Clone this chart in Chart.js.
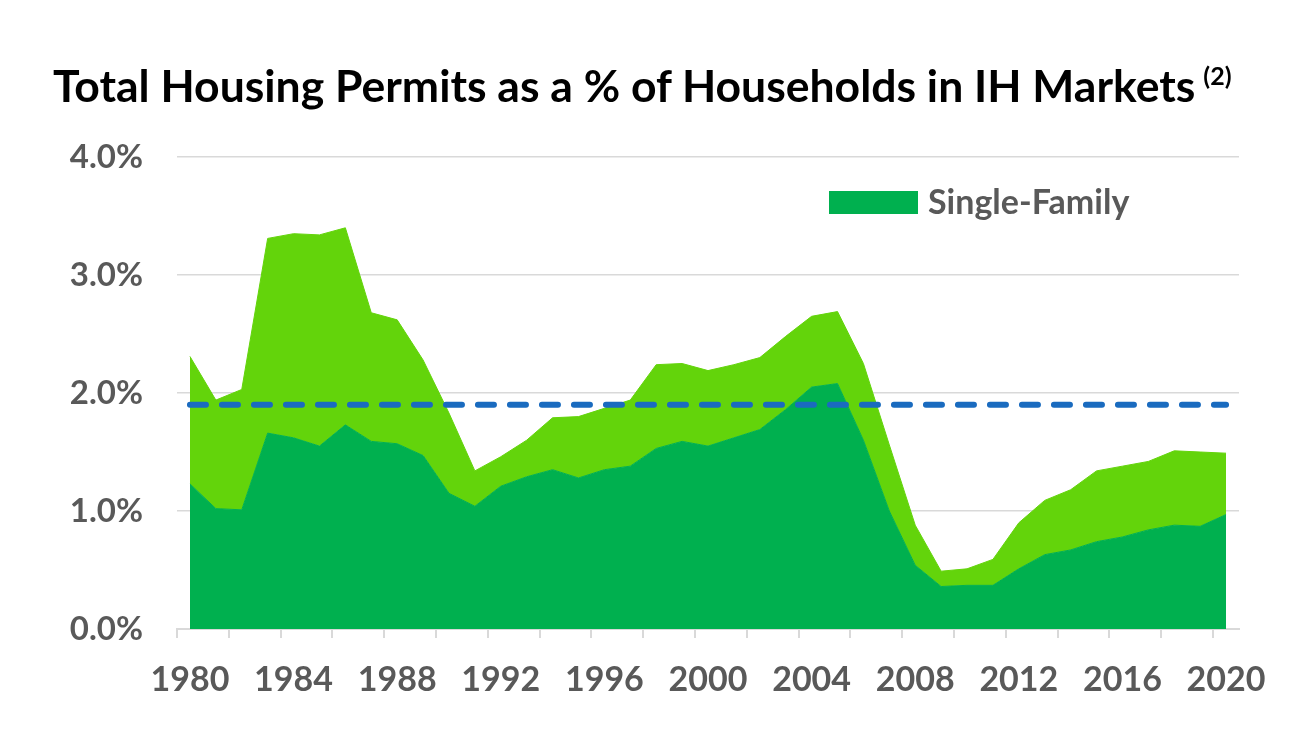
<!DOCTYPE html>
<html>
<head>
<meta charset="utf-8">
<script src="https://cdn.jsdelivr.net/npm/chart.js@4.4.1/dist/chart.umd.min.js"></script>
<style>
    body { margin: 0; background: #fff; }
    #wrap { position: relative; width: 1306px; height: 733px; }
    #title {
        position: absolute; left: 53px; top: 63px;
        font-family: Lato, sans-serif; font-weight: bold; font-size: 44.5px;
        line-height: 1; color: #000; white-space: nowrap;
    }
    #title sup { font-size: 25px; vertical-align: 0; position: relative; top: -17px; margin-left: 8px; }
    canvas { position: absolute; left: 0; top: 0; }
</style>
</head>
<body>
<div id="wrap">
    <canvas id="permitsChart" width="1306" height="733"></canvas>
    <div id="title">Total Housing Permits as a % of Households in IH Markets<sup>(2)</sup></div>
</div>
<script>
// =================== data ===================
const years = [
    '1980', '1981', '1982', '1983', '1984', '1985', '1986', '1987', '1988', '1989',
    '1990', '1991', '1992', '1993', '1994', '1995', '1996', '1997', '1998', '1999',
    '2000', '2001', '2002', '2003', '2004', '2005', '2006', '2007', '2008', '2009',
    '2010', '2011', '2012', '2013', '2014', '2015', '2016', '2017', '2018', '2019', '2020'
];

// total permits (% of households) - top of the light green area
const totalPermits = [
    2.31, 1.94, 2.03, 3.31, 3.35, 3.34, 3.40, 2.68, 2.62, 2.28,
    1.83, 1.34, 1.46, 1.60, 1.79, 1.80, 1.87, 1.94, 2.24, 2.25,
    2.19, 2.24, 2.30, 2.48, 2.65, 2.69, 2.25, 1.56, 0.88, 0.49,
    0.51, 0.59, 0.90, 1.09, 1.18, 1.34, 1.38, 1.42, 1.51, 1.50, 1.49
];

// single-family permits (% of households) - dark green area
const singleFamily = [
    1.23, 1.02, 1.01, 1.66, 1.62, 1.55, 1.73, 1.59, 1.57, 1.47,
    1.15, 1.04, 1.21, 1.29, 1.35, 1.28, 1.35, 1.38, 1.53, 1.59,
    1.55, 1.62, 1.69, 1.86, 2.05, 2.08, 1.60, 1.00, 0.54, 0.36,
    0.37, 0.37, 0.51, 0.63, 0.67, 0.74, 0.78, 0.84, 0.88, 0.87, 0.97
];

// long-term average (dashed line)
const longTermAvg = 1.9;
// =================================================================

const darkGreen = '#00B04F';
const lightGreen = '#63D40B';
const dashBlue = '#1A6BBF';
const labelGray = '#595959';
const gridGray = '#D9D9D9';

// legend drawn inside the plot area, like the original
const insideLegend = {
    id: 'insideLegend',
    afterDraw(chart) {
        const ctx = chart.ctx;
        const ds = chart.data.datasets[1];
        const x = 829, y = 191;
        ctx.save();
        ctx.fillStyle = ds.backgroundColor;
        ctx.fillRect(x, y, 89, 23);
        ctx.fillStyle = labelGray;
        ctx.font = 'bold 34px Lato';
        ctx.textBaseline = 'middle';
        ctx.fillText(ds.label, x + 99, y + 12);
        ctx.restore();
    }
};

function permitsChart() {
    const ctx = document.getElementById('permitsChart');
    const myChart = new Chart(ctx, {
        type: 'line',
        data: {
            labels: years,
            datasets: [
                {
                    label: 'Long-term average',
                    data: years.map(() => longTermAvg),
                    borderColor: dashBlue,
                    borderWidth: 6,
                    borderDash: [16, 16],
                    borderCapStyle: 'round',
                    pointRadius: 0,
                    fill: false,
                    order: 0
                },
                {
                    label: 'Single-Family',
                    data: singleFamily,
                    borderColor: darkGreen,
                    backgroundColor: darkGreen,
                    borderWidth: 1,
                    pointRadius: 0,
                    fill: 'origin',
                    order: 1
                },
                {
                    label: 'Total',
                    data: totalPermits,
                    borderColor: lightGreen,
                    backgroundColor: lightGreen,
                    borderWidth: 1,
                    pointRadius: 0,
                    fill: 1,
                    order: 2
                }
            ]
        },
        options: {
            responsive: false,
            animation: false,
            layout: {
                padding: { top: 157, right: 67, left: 0, bottom: 0 }
            },
            plugins: {
                legend: { display: false },
                tooltip: { enabled: false }
            },
            scales: {
                x: {
                    offset: true,
                    grid: {
                        offset: true,
                        drawOnChartArea: false,
                        tickLength: 9,
                        lineWidth: 2,
                        color: (c) => c.index % 2 === 0 ? gridGray : 'rgba(0,0,0,0)'
                    },
                    border: { display: true, color: gridGray, width: 2 },
                    ticks: {
                        autoSkip: false,
                        maxRotation: 0,
                        padding: 22,
                        color: labelGray,
                        font: { family: 'Lato', weight: 'bold', size: 34 },
                        callback: function(value, index) {
                            return index % 4 === 0 ? years[index] : '';
                        }
                    },
                    afterFit: (scale) => { scale.height = 104; }
                },
                y: {
                    min: 0,
                    max: 4,
                    grid: { color: gridGray, lineWidth: 1.5, drawTicks: false },
                    border: { display: false },
                    ticks: {
                        stepSize: 1,
                        padding: 34,
                        color: labelGray,
                        font: { family: 'Lato', weight: 'bold', size: 33 },
                        callback: (v) => v.toFixed(1) + '%'
                    },
                    afterFit: (scale) => { scale.width = 177; }
                }
            }
        },
        plugins: [insideLegend]
    });
    return myChart;
}

permitsChart();
</script>
</body>
</html>
